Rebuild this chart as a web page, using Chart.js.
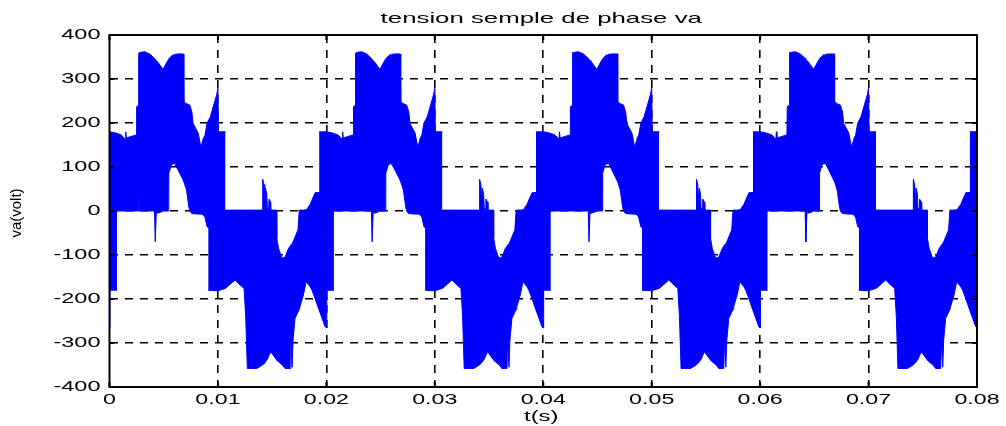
<!DOCTYPE html>
<html>
<head>
<meta charset="utf-8">
<title>tension semple de phase va</title>
<script src="https://cdn.jsdelivr.net/npm/chart.js@4.4.1/dist/chart.umd.min.js"></script>
<style>
    html, body { margin: 0; padding: 0; background: #fff; }
    canvas { display: block; }
</style>
</head>
<body>
<canvas id="va-chart" width="1006" height="426"></canvas>
<script>
// axis ticks
const xTicks = [0, 0.01, 0.02, 0.03, 0.04, 0.05, 0.06, 0.07, 0.08];
const xTickLabels = ['0', '0.01', '0.02', '0.03', '0.04', '0.05', '0.06', '0.07', '0.08'];
const yTicks = [-400, -300, -200, -100, 0, 100, 200, 300, 400];
const yTickLabels = ['-400', '-300', '-200', '-100', '0', '100', '200', '300', '400'];

// the waveform repeats every 20 ms, these are the period starts seen in the plot (s)
const periodStarts = [-0.02, 0, 0.02, 0.04, 0.06, 0.08];

// positive half wave: time from period start (s), upper and lower edge of the PWM band (V)
const posT = [-0.00067, 0, 0.00046, 0.00108, 0.00145, 0.0015, 0.00155, 0.00247, 0.0025, 0.00266,
    0.00268, 0.0027, 0.00274, 0.00324, 0.0037, 0.00415, 0.00422, 0.00432, 0.0044, 0.0047,
    0.00494, 0.0054, 0.00546, 0.00548, 0.00571, 0.00586, 0.0059, 0.00593, 0.00597, 0.00602,
    0.00633, 0.00679, 0.00685, 0.00687, 0.0071, 0.00731, 0.0074, 0.0076, 0.00771, 0.00818,
    0.00843, 0.0086, 0.00864, 0.0088, 0.009, 0.0093, 0.00988, 0.0100, 0.01005, 0.0107];
const posTopV = [180, 180, 178, 173, 163, 180, 166, 173, 237, 240,
    240, 358, 360, 362, 357, 347, 345, 342, 340, 330,
    322, 343, 345, 346, 352, 355, 355, 298, 355, 356,
    357, 357, 357, 248, 244, 242, 241, 225, 199, 177,
    145, 160, 165, 172, 200, 214, 264, 279, 180, 180];
const posBotV = [0, 0, 0, 0, 0, 0, 0, 0, 0, 0,
    0, 64, 0, 0, 0, 0, -70, 0, -5, -3,
    0, 0, 0, 86, 105, 107, 107, 108, 108, 108,
    93, 70, 67, 66, 48, 10, 0, -6, -6, -7,
    -7, -8, -9, -14, -36, -40, -40, -40, -40, -40];

// negative half wave: time from period start (s), upper and lower edge of the PWM band (V)
const negT = [0.0091, 0.00957, 0.01004, 0.01066, 0.0107, 0.01158, 0.01204, 0.01241, 0.01256, 0.01271,
    0.01358, 0.0141, 0.01413, 0.01425, 0.01432, 0.01438, 0.0145, 0.01456, 0.01468, 0.01471,
    0.01487, 0.0149, 0.0154, 0.01543, 0.01559, 0.0159, 0.01619, 0.0162, 0.01651, 0.01665,
    0.01672, 0.01684, 0.01693, 0.01711, 0.01738, 0.0175, 0.01757, 0.01788, 0.01813, 0.0182,
    0.0185, 0.01867, 0.01898, 0.01911, 0.01988, 0.0200, 0.02004, 0.0207];
const negTopV = [0, 0, 1, 2, 2, 2, 2, 2, 2, 2,
    2, 2, 72, 60, 20, 52, 40, 5, 5, 27,
    20, 2, 2, -62, -85, -107, -105, -104, -85, -80,
    -77, -74, -70, -59, -43, 2, 2, 2, 3, 4,
    15, 25, 42, 42, 42, 42, 42, 42];
const negBotV = [-180, -181, -181, -176, -176, -157, -168, -176, -240, -358,
    -358, -350, -349, -347, -345, -343, -339, -337, -330, -328,
    -320, -321, -338, -339, -343, -349, -358, -358, -358, -358,
    -293, -355, -293, -244, -230, -224, -217, -191, -161, -163,
    -172, -180, -200, -210, -263, -265, -180, -180];

const BLUE = '#0000ff';
const FONT = '"Liberation Sans", Arial, Helvetica, sans-serif';

function edge(ts, vs, start) {
    return ts.map((t, i) => ({ x: start + t, y: vs[i] }));
}

// a band is an upper edge filled down to its lower edge
function bandPair(ts, topV, botV, start) {
    const common = {
        borderColor: BLUE,
        backgroundColor: BLUE,
        borderWidth: 1,
        pointRadius: 0,
        tension: 0
    };
    return [
        Object.assign({ data: edge(ts, topV, start), fill: '+1' }, common),
        Object.assign({ data: edge(ts, botV, start), fill: false }, common)
    ];
}

const datasets = [];
periodStarts.forEach(function (start) {
    datasets.push(...bandPair(posT, posTopV, posBotV, start));
    datasets.push(...bandPair(negT, negTopV, negBotV, start));
});

// draw text widened like the exported figure
function wideText(ctx, text, x, y, sx, align, baseline) {
    ctx.save();
    ctx.translate(x, y);
    ctx.scale(sx, 1);
    ctx.textAlign = align;
    ctx.textBaseline = baseline;
    ctx.fillText(text, 0, 0);
    ctx.restore();
}

const frameAndText = {
    id: 'frameAndText',
    afterDraw(chart) {
        const { ctx, chartArea: a } = chart;
        const xs = chart.scales.x;
        const ys = chart.scales.y;
        ctx.save();

        // box round the plot
        ctx.strokeStyle = '#000';
        ctx.lineWidth = 2;
        ctx.strokeRect(a.left, a.top, a.right - a.left, a.bottom - a.top);

        // inward tick marks on all four sides
        ctx.beginPath();
        xTicks.forEach(function (v) {
            const px = xs.getPixelForValue(v);
            ctx.moveTo(px, a.bottom); ctx.lineTo(px, a.bottom - 5);
            ctx.moveTo(px, a.top); ctx.lineTo(px, a.top + 5);
        });
        yTicks.forEach(function (v) {
            const py = ys.getPixelForValue(v);
            ctx.moveTo(a.left, py); ctx.lineTo(a.left + 5, py);
            ctx.moveTo(a.right, py); ctx.lineTo(a.right - 5, py);
        });
        ctx.stroke();

        ctx.fillStyle = '#000';
        ctx.font = '14px ' + FONT;
        yTicks.forEach(function (v, i) {
            wideText(ctx, yTickLabels[i], a.left - 9, ys.getPixelForValue(v), 1.68, 'right', 'middle');
        });
        xTicks.forEach(function (v, i) {
            wideText(ctx, xTickLabels[i], xs.getPixelForValue(v), a.bottom + 13, 1.66, 'center', 'middle');
        });
        wideText(ctx, 't(s)', (a.left + a.right) / 2 - 2, a.bottom + 30, 1.7, 'center', 'middle');

        ctx.font = '15px ' + FONT;
        wideText(ctx, 'tension semple de phase va', (a.left + a.right) / 2 - 2, 23, 1.72, 'center', 'alphabetic');

        // y axis title
        ctx.translate(17, (a.top + a.bottom) / 2 + 2);
        ctx.rotate(-Math.PI / 2);
        ctx.font = '15px ' + FONT;
        ctx.textAlign = 'center';
        ctx.textBaseline = 'middle';
        ctx.fillText('va(volt)', 0, 0);

        ctx.restore();
    }
};

const ctx = document.getElementById('va-chart');

new Chart(ctx, {
    type: 'line',
    data: { datasets: datasets },
    options: {
        responsive: false,
        animation: false,
        events: [],
        layout: {
            padding: { left: 109.5, right: 29, top: 35, bottom: 39 }
        },
        scales: {
            x: {
                type: 'linear',
                min: 0,
                max: 0.08,
                afterBuildTicks: function (scale) {
                    scale.ticks = xTicks.map(v => ({ value: v }));
                },
                ticks: { display: false },
                grid: {
                    drawTicks: false,
                    lineWidth: 1.6,
                    color: c => (c.tick && (c.tick.value === 0 || c.tick.value === 0.08)) ? 'rgba(0,0,0,0)' : '#000'
                },
                border: { display: false, dash: [8, 7] }
            },
            y: {
                type: 'linear',
                min: -400,
                max: 400,
                afterBuildTicks: function (scale) {
                    scale.ticks = yTicks.map(v => ({ value: v }));
                },
                ticks: { display: false },
                grid: {
                    drawTicks: false,
                    lineWidth: 1.6,
                    color: c => (c.tick && (c.tick.value === -400 || c.tick.value === 400)) ? 'rgba(0,0,0,0)' : '#000'
                },
                border: { display: false, dash: [8, 7] }
            }
        },
        plugins: {
            legend: { display: false },
            title: { display: false },
            tooltip: { enabled: false }
        }
    },
    plugins: [frameAndText]
});
</script>
</body>
</html>
